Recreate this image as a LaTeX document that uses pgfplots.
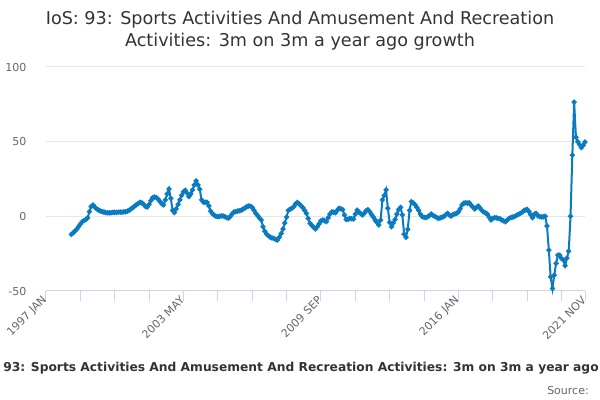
\documentclass[border=0pt]{standalone}
\usepackage{pgfplots}
\pgfplotsset{compat=1.18}
\usepackage{fontspec}
\setmainfont{DejaVu Sans}
\definecolor{line}{HTML}{0A7BC1}
\definecolor{gridc}{HTML}{E6E6E6}
\definecolor{axisc}{HTML}{CCD6EB}
\definecolor{lab}{HTML}{666666}
\definecolor{tit}{HTML}{333333}
\begin{document}
\begin{tikzpicture}
\useasboundingbox (0,0) rectangle (450pt,300pt);
\begin{axis}[
  at={(34.5pt,81.75pt)}, anchor=south west,
  scale only axis, width=404.25pt, height=168pt,
  xmin=0, xmax=298, ymin=-50, ymax=100,
  axis x line*=bottom, axis y line*=left,
  x axis line style={draw=axisc, line width=0.75pt, -},
  y axis line style={draw=none},
  xtick={0,76,152,228,298},
  xticklabels={1997 JAN,2003 MAY,2009 SEP,2016 JAN,2021 NOV},
  extra x ticks={19,38,57,95,114,133,171,190,209,247,266,285},
  extra x tick labels={},
  extra x tick style={grid=none},
  ytick={-50,0,50,100},
  yticklabels={-50,0,50,100},
  ymajorgrids, grid style={draw=gridc, line width=0.75pt},
  tick align=outside, major tick length=7.5pt,
  xtick style={draw=axisc, line width=0.75pt},
  ytick style={draw=none},
  ticklabel style={font=\fontsize{8.25}{10}\selectfont, text=lab},
  xticklabel style={rotate=45, anchor=east, inner sep=1pt, xshift=2pt, yshift=2pt},
  yticklabel style={anchor=east, inner sep=0pt, xshift=-7pt},
  clip=false,
]
\addplot[color=line, line width=1.5pt, mark=*, mark size=1.1pt, mark options={solid}] coordinates {
(14,-12.1) (15,-11) (16,-9.8) (17,-8.7) (18,-7) (19,-5.3) (20,-3.6) (21,-2.8) (22,-2.2) (23,-1)
(24,3.1) (25,6.5) (26,7.6) (27,6.2) (28,5) (29,4.2) (30,3.6) (31,3.2) (32,2.9) (33,2.5)
(34,2.4) (35,2.3) (36,2.4) (37,2.6) (38,2.7) (39,2.6) (40,2.8) (41,2.9) (42,2.7) (43,3)
(44,3) (45,3.5) (46,4) (47,5) (48,5.8) (49,6.8) (50,7.8) (51,8.6) (52,9.4) (53,9)
(54,8) (55,6.6) (56,6.2) (57,8) (58,10.5) (59,12.5) (60,13) (61,12.5) (62,11.5) (63,10)
(64,8.5) (65,7.6) (66,11) (67,15) (68,18.3) (69,12) (70,4) (71,2.5) (72,5) (73,8)
(74,11) (75,14) (76,16.5) (77,17.5) (78,15.5) (79,13.2) (80,15) (81,17.7) (82,21) (83,23.7)
(84,21) (85,18.1) (86,11) (87,9.5) (88,9.4) (89,9.4) (90,7) (91,3.5) (92,1.8) (93,0.8)
(94,0.1) (95,-0.2) (96,0) (97,0.3) (98,0.2) (99,-0.3) (100,-1) (101,-1.2) (102,0) (103,1.8)
(104,3) (105,3.2) (106,3.5) (107,3.8) (108,4.2) (109,4.8) (110,5.6) (111,6.4) (112,6.9) (113,6.8)
(114,6) (115,4) (116,2) (117,0.5) (118,-1) (119,-2.5) (120,-7) (121,-10) (122,-12) (123,-13)
(124,-14) (125,-14.5) (126,-14.8) (127,-15.5) (128,-15.9) (129,-14) (130,-11.5) (131,-8.5) (132,-4.5) (133,-0.5)
(134,4) (135,4.8) (136,5.4) (137,6.5) (138,8.3) (139,9.4) (140,8.2) (141,7) (142,5.8) (143,4)
(144,2) (145,-1.5) (146,-4.7) (147,-6) (148,-7.5) (149,-8.5) (150,-7) (151,-5) (152,-3) (153,-2.5)
(154,-3) (155,-3.6) (156,-1) (157,1.5) (158,3) (159,2.8) (160,2.4) (161,4) (162,5.4) (163,5)
(164,4.5) (165,1) (166,-2.2) (167,-2) (168,-1.4) (169,-1.6) (170,-1.8) (171,1.5) (172,4.2) (173,3)
(174,1.8) (175,0.9) (176,2.2) (177,3.8) (178,4.5) (179,3) (180,1.2) (181,-0.5) (182,-2.5) (183,-4.2)
(184,-5.8) (185,-2.5) (186,11) (187,14) (188,17.7) (189,5.4) (190,-4) (191,-7) (192,-4.5) (193,-2)
(194,1.5) (195,4.5) (196,6) (197,1) (198,-11.9) (199,-14) (200,-8.7) (201,4) (202,9.8) (203,9)
(204,7.8) (205,6) (206,4) (207,1.5) (208,-0.2) (209,-0.6) (210,-0.9) (211,-0.3) (212,0.5) (213,1.5)
(214,0.5) (215,0) (216,-0.8) (217,-1.4) (218,-1) (219,-0.5) (220,-0.2) (221,1) (222,2) (223,0.8)
(224,0.2) (225,1.2) (226,1.5) (227,2) (228,3) (229,5) (230,7.6) (231,8.8) (232,9.1) (233,8.8)
(234,9.1) (235,7.5) (236,6.2) (237,4.9) (238,6) (239,6.9) (240,5.5) (241,4) (242,3) (243,2.2)
(244,1.5) (245,-0.5) (246,-2.5) (247,-1.5) (248,-0.9) (249,-1) (250,-1.4) (251,-1.6) (252,-2.5) (253,-3)
(254,-3.6) (255,-2.5) (256,-1.4) (257,-0.8) (258,-0.5) (259,-0.2) (260,0.5) (261,1.2) (262,1.8) (263,2.6)
(264,3.5) (265,4.2) (266,4.7) (267,3.2) (268,1) (269,-0.9) (270,1.5) (271,2) (272,0.2) (273,-0.2)
(274,-0.4) (275,-0.3) (276,0) (277,-6.5) (278,-22.6) (279,-40.5) (280,-48.3) (281,-39.4) (282,-31.5) (283,-26)
(284,-26) (285,-28.2) (286,-29.3) (287,-33) (288,-28) (289,-23.3) (290,0) (291,41) (292,76.5) (293,53)
(294,50) (295,48) (296,46) (297,47.5) (298,49.7)
};
\end{axis}
\node[align=center, text=tit, font=\fontsize{13.2}{16.5}\selectfont] at (225pt,276.75pt)
  {IoS: 93: Sports Activities And Amusement And Recreation\\Activities: 3m on 3m a year ago growth};
\node[anchor=west, inner sep=0pt, text=tit, font=\fontsize{9.2}{11}\selectfont\bfseries] at (2.25pt,24pt)
  {93: Sports Activities And Amusement And Recreation Activities: 3m on 3m a year ago growth};
\node[anchor=east, inner sep=0pt, text=lab, font=\fontsize{8.25}{10}\selectfont] at (441.75pt,7.5pt) {Source:};
\end{tikzpicture}
\end{document}
